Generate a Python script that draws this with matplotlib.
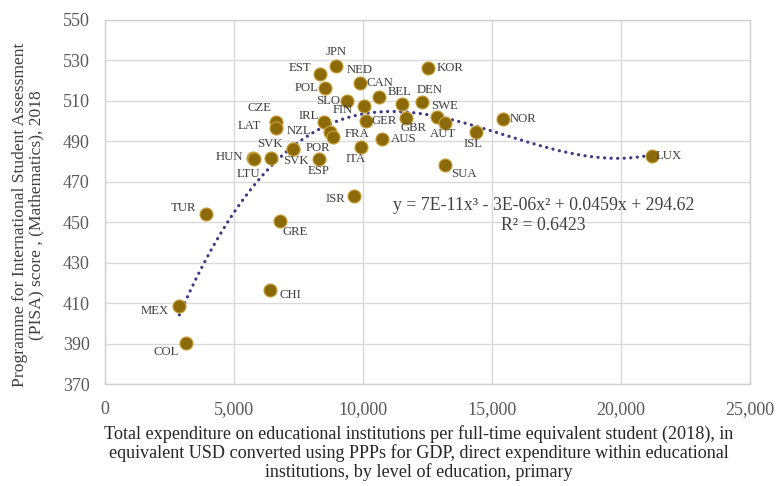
import numpy as np
import matplotlib
matplotlib.use("Agg")
import matplotlib.pyplot as plt
from matplotlib.ticker import FuncFormatter

# ---- data ----
countries = ["JPN", "EST", "NED", "POL", "CAN", "SLO", "FIN", "BEL", "DEN", "KOR",
             "SWE", "AUT", "GBR", "GER", "IRL", "NZL", "FRA", "AUS", "ITA", "SVK",
             "POR", "HUN", "LTU", "SVK", "ESP", "CZE", "LAT", "SUA", "ISL", "ISR",
             "NOR", "LUX", "TUR", "MEX", "COL", "GRE", "CHI"]
expenditure = [8941, 8333, 9884, 8540, 10620, 9393, 10039, 11499, 12274, 12532,
               12855, 13178, 11667, 10103, 8500, 8721, 8824, 10749, 9922, 7280,
               7300, 5749, 5760, 6434, 8295, 6615, 6615, 13178, 14380, 9651,
               15440, 21190, 3903, 2880, 3127, 6771, 6408]
pisa_math = [527.2, 523.2, 518.8, 516.0, 511.9, 509.8, 507.3, 508.3, 509.4, 526.2,
             501.7, 499.0, 501.5, 500.0, 499.5, 494.6, 492.1, 490.8, 487.1, 486.2,
             486.0, 481.4, 481.2, 481.4, 481.1, 499.3, 496.3, 478.1, 494.6, 462.8,
             500.9, 482.6, 453.8, 408.5, 390.4, 450.6, 416.4]
x_ticks = [0, 5000, 10000, 15000, 20000, 25000]
y_ticks = [370, 390, 410, 430, 450, 470, 490, 510, 530, 550]
equation_text = "y = 7E-11x³ - 3E-06x² + 0.0459x + 294.62"
r2_text = "R² = 0.6423"

# label offsets in pixels (layout only)
label_offsets = [(1, 14), (-20, 6), (0, 13), (-19, 0), (1, 14), (-19, 0), (-21, -4),
                 (-2, 12), (8, 12), (22, 0), (8, 11), (-2, -11), (7, -10), (19, 0),
                 (-16, 6), (-31, 1), (24, 3), (21, 0), (-5, -12), (-23, 5), (25, 1),
                 (-24, 1), (-5, -15), (25, -3), (0, -12), (-16, 14), (-26, 2), (19, -9),
                 (-3, -12), (-19, -3), (20, 0), (17, 0), (-22, 6), (-24, -5), (-19, -9),
                 (15, -11), (20, -5)]

serif = ["Liberation Serif", "DejaVu Serif"]
plt.rcParams["font.family"] = serif

fig = plt.figure(figsize=(7.79, 4.86), dpi=100)
ax = fig.add_axes([105 / 779, 1 - 384 / 486, (750 - 105) / 779, (384 - 19.5) / 486])

ax.set_xlim(x_ticks[0], x_ticks[-1])
ax.set_ylim(y_ticks[0], y_ticks[-1])
ax.set_xticks(x_ticks)
ax.set_yticks(y_ticks)
ax.xaxis.set_major_formatter(FuncFormatter(lambda v, p: f"{int(v):,}"))
ax.grid(True, color="#d9d9d9", linewidth=1.0)
ax.set_axisbelow(True)
for s in ax.spines.values():
    s.set_color("#d0d0d0")
    s.set_linewidth(1.0)
ax.tick_params(length=0, labelsize=13, labelcolor="#595959")
ax.tick_params(axis="y", pad=11)
ax.tick_params(axis="x", pad=12)

# trend line (cubic fit of the data)
xs = np.array(expenditure, dtype=float)
ys = np.array(pisa_math, dtype=float)
coef = np.polyfit(xs, ys, 3)
xt = np.linspace(xs.min(), xs.max(), 400)
ax.plot(xt, np.polyval(coef, xt), linestyle=(0, (0.05, 2.0)), color="#403a85",
        linewidth=2.3, dash_capstyle="round", zorder=2)

ax.scatter(xs, ys, s=88, color="#8c6a0a", edgecolors="#c9a23c", linewidths=0.8, zorder=3)

for name, xv, yv, off in zip(countries, expenditure, pisa_math, label_offsets):
    ax.annotate(name, (xv, yv), xytext=off, textcoords="offset pixels",
                ha="center", va="center", fontsize=9.2, color="#404040", zorder=4)

ax.text(17000, 458.3, equation_text, ha="center", va="center", fontsize=12.8,
        color="#404040")
ax.text(17000, 448.4, r2_text, ha="center", va="center", fontsize=12.8,
        color="#404040")

ax.set_xlabel("Total expenditure on educational institutions per full-time equivalent student (2018), in\n"
              "equivalent USD converted using PPPs for GDP, direct expenditure within educational\n"
              "institutions, by level of education, primary",
              fontsize=13.1, color="#262626", linespacing=1.08)
ax.xaxis.set_label_coords((419 - 105) / 645, (384 - 453) / 364.5)
ax.xaxis.label.set_va("center")
ax.set_ylabel("Programme for International Student Assessment\n(PISA) score , (Mathematics), 2018",
              fontsize=12.6, color="#404040", linespacing=1.05)
ax.yaxis.set_label_coords((28 - 105) / 645, (384 - 215) / 364.5)
ax.yaxis.label.set_va("center")

fig.savefig("out.png", dpi=100)
